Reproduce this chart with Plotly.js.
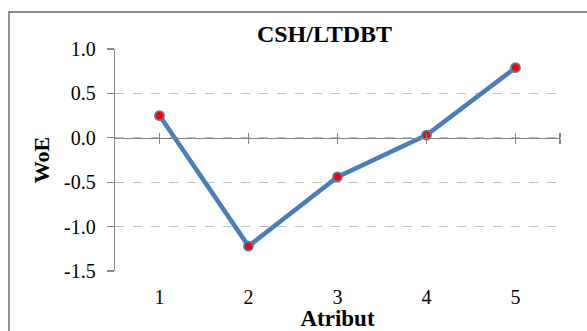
<!DOCTYPE html>
<html>
<head>
<meta charset="utf-8">
<script src="https://cdn.plot.ly/plotly-3.0.1.min.js"></script>
<style>html,body{margin:0;padding:0;background:#fff;}#chart{width:587px;height:331px;}</style>
</head>
<body>
<div id="chart"></div>
<script>
const categories = [1, 2, 3, 4, 5];
const woe = [0.25, -1.22, -0.44, 0.03, 0.79];
const yTicks = [-1.5, -1.0, -0.5, 0.0, 0.5, 1.0];
const yTickLabels = ['-1.5', '-1.0', '-0.5', '0.0', '0.5', '1.0'];
const chartTitle = 'CSH/LTDBT';
const xTitle = 'Atribut';
const yTitle = 'WoE';

const font = 'Liberation Serif';
const axisGray = '#868686';
const yMin = -1.5, yMax = 1.0;
const zeroPos = (0 - yMin) / (yMax - yMin);

const trace = {
  x: categories, y: woe, type: 'scatter', mode: 'lines+markers',
  line: {color: '#4A7EBB', width: 4.5},
  marker: {color: '#FF0000', size: 9, line: {color: '#4A7EBB', width: 1.8}},
  hoverinfo: 'skip', showlegend: false, cliponaxis: false
};
const t2 = {x: categories, y: woe, xaxis: 'x2', yaxis: 'y', mode: 'none', showlegend: false, hoverinfo: 'skip'};
const t3 = {x: categories, y: woe, xaxis: 'x3', yaxis: 'y', mode: 'none', showlegend: false, hoverinfo: 'skip'};

const catTickVals = [1, 2, 3, 4, 5, 5.5];
const layout = {
  width: 587, height: 331,
  margin: {l: 115, r: 27, t: 49, b: 60},
  paper_bgcolor: '#fff', plot_bgcolor: '#fff',
  font: {family: font, size: 20, color: '#000'},
  title: {text: '<b>' + chartTitle + '</b>', font: {family: font, size: 24, color: '#000'},
          x: (324.5 - 115) / 445, xref: 'paper', xanchor: 'center', y: 1 - 34 / 331, yref: 'container', yanchor: 'middle'},
  xaxis: {
    range: [0.5, 5.5], tickvals: categories, ticktext: categories.map(String),
    showline: false, showgrid: false, zeroline: false, ticks: '',
    tickfont: {family: font, size: 20, color: '#000'},
    ticklabelstandoff: 12,
    title: {text: '<b>' + xTitle + '</b>', font: {family: font, size: 23, color: '#000'}, standoff: 1},
    fixedrange: true
  },
  xaxis2: {
    overlaying: 'x', anchor: 'free', position: zeroPos, side: 'bottom',
    range: [0.5, 5.5], tickvals: catTickVals, showticklabels: false,
    showline: true, linecolor: axisGray, linewidth: 1.3,
    ticks: 'outside', ticklen: 5, tickcolor: axisGray, tickwidth: 1.3,
    showgrid: false, zeroline: false
  },
  xaxis3: {
    overlaying: 'x', anchor: 'free', position: zeroPos, side: 'top',
    range: [0.5, 5.5], tickvals: catTickVals, showticklabels: false,
    showline: false, ticks: 'outside', ticklen: 5, tickcolor: axisGray, tickwidth: 1.3,
    showgrid: false, zeroline: false
  },
  yaxis: {
    range: [yMin, yMax], tickvals: yTicks, ticktext: yTickLabels,
    showline: true, linecolor: axisGray, linewidth: 1.3,
    ticks: 'outside', ticklen: 7, tickcolor: axisGray, tickwidth: 1.3,
    showgrid: true, gridcolor: '#BFBFBF', gridwidth: 1.2, griddash: 'dash',
    zeroline: false,
    tickfont: {family: font, size: 20, color: '#000'},
    ticklabelstandoff: 7,
    title: {text: '<b>' + yTitle + '</b>', font: {family: font, size: 22, color: '#000'}, standoff: 8},
    fixedrange: true
  },
  shapes: [{
    type: 'rect', xref: 'paper', yref: 'paper',
    x0: (9 - 115) / 445, x1: (600 - 115) / 445,
    y0: (271 - 345) / 222, y1: (271 - 12) / 222,
    line: {color: '#888888', width: 1.8}, fillcolor: 'rgba(0,0,0,0)', layer: 'below'
  }]
};

Plotly.newPlot('chart', [t2, t3, trace], layout, {displayModeBar: false, staticPlot: true});
</script>
</body>
</html>
